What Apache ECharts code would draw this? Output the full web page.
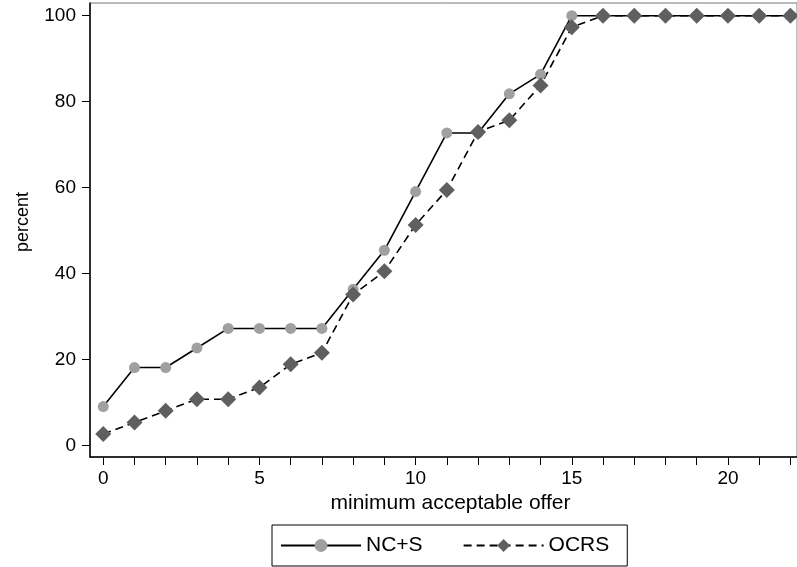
<!DOCTYPE html>
<html>
<head>
<meta charset="utf-8">
<script src="https://cdn.jsdelivr.net/npm/echarts@6/dist/echarts.min.js"></script>
<style>
  html, body { margin: 0; padding: 0; background: #fff; }
</style>
</head>
<body>
<div id="myChart" style="width: 797px; height: 567px;"></div>
<script>
  // minimum acceptable offer
  const offers = [0, 1, 2, 3, 4, 5, 6, 7, 8, 9, 10, 11, 12, 13, 14, 15, 16, 17, 18, 19, 20, 21, 22];
  // cumulative percent, NC+S
  const ncs = [9.09, 18.18, 18.18, 22.73, 27.27, 27.27, 27.27, 27.27, 36.36, 45.45, 59.09, 72.73,
    72.73, 81.82, 86.36, 100, 100, 100, 100, 100, 100, 100, 100];
  // cumulative percent, OCRS
  const ocrs = [2.70, 5.41, 8.11, 10.81, 10.81, 13.51, 18.92, 21.62, 35.14, 40.54, 51.35, 59.46,
    72.97, 75.68, 83.78, 97.30, 100, 100, 100, 100, 100, 100, 100];
  const xTicks = [0, 1, 2, 3, 4, 5, 6, 7, 8, 9, 10, 11, 12, 13, 14, 15, 16, 17, 18, 19, 20, 21, 22];
  const xLabels = [0, 5, 10, 15, 20];
  const yTicks = [0, 20, 40, 60, 80, 100];

  const font = '"Liberation Sans", Arial, Helvetica, sans-serif';

  let myChart = echarts.init(document.getElementById('myChart'));

  myChart.setOption({
    animation: false,
    textStyle: { fontFamily: font },
    grid: {
      left: 90,
      right: -3,
      top: 3,
      bottom: 110,
      show: true,
      borderColor: '#777',
      borderWidth: 1,
      backgroundColor: '#fff'
    },
    legend: {
      left: 272,
      top: 525,
      itemWidth: 80,
      itemHeight: 16,
      itemGap: 40,
      padding: [10, 18, 10, 8],
      borderColor: '#000',
      borderWidth: 1,
      textStyle: { fontSize: 21, color: '#000', fontFamily: font },
      data: ['NC+S', 'OCRS']
    },
    xAxis: {
      type: 'value',
      min: -0.424,
      max: 22.21,
      name: 'minimum acceptable offer',
      nameLocation: 'middle',
      nameGap: 30,
      nameTextStyle: { fontSize: 21, color: '#000', padding: [0, 0, 0, 14] },
      splitLine: { show: false },
      axisLine: { onZero: false, lineStyle: { color: '#000', width: 1.5 } },
      axisTick: { length: 8, customValues: xTicks, lineStyle: { color: '#000', width: 1 } },
      axisLabel: { customValues: xLabels, fontSize: 19, color: '#000', margin: 12 }
    },
    yAxis: {
      type: 'value',
      min: -2.63,
      max: 102.95,
      name: 'percent',
      nameLocation: 'middle',
      nameGap: 58,
      nameTextStyle: { fontSize: 18, color: '#000', padding: [0, 0, 0, 16] },
      splitLine: { show: false },
      axisLine: { show: true, onZero: false, lineStyle: { color: '#000', width: 1.5 } },
      axisTick: { show: true, length: 8, customValues: yTicks, lineStyle: { color: '#000', width: 1 } },
      axisLabel: { customValues: yTicks, fontSize: 19, color: '#000', margin: 14 }
    },
    series: [
      {
        name: 'NC+S',
        type: 'line',
        data: offers.map((x, i) => [x, ncs[i]]),
        symbol: 'circle',
        symbolSize: 11,
        itemStyle: { color: '#a0a0a0' },
        lineStyle: { color: '#000', width: 1.6, type: 'solid' }
      },
      {
        name: 'OCRS',
        type: 'line',
        data: offers.map((x, i) => [x, ocrs[i]]),
        symbol: 'diamond',
        symbolSize: 16,
        itemStyle: { color: '#5f5f5f' },
        lineStyle: { color: '#000', width: 1.6, type: [8, 5] }
      }
    ]
  });
</script>
</body>
</html>
